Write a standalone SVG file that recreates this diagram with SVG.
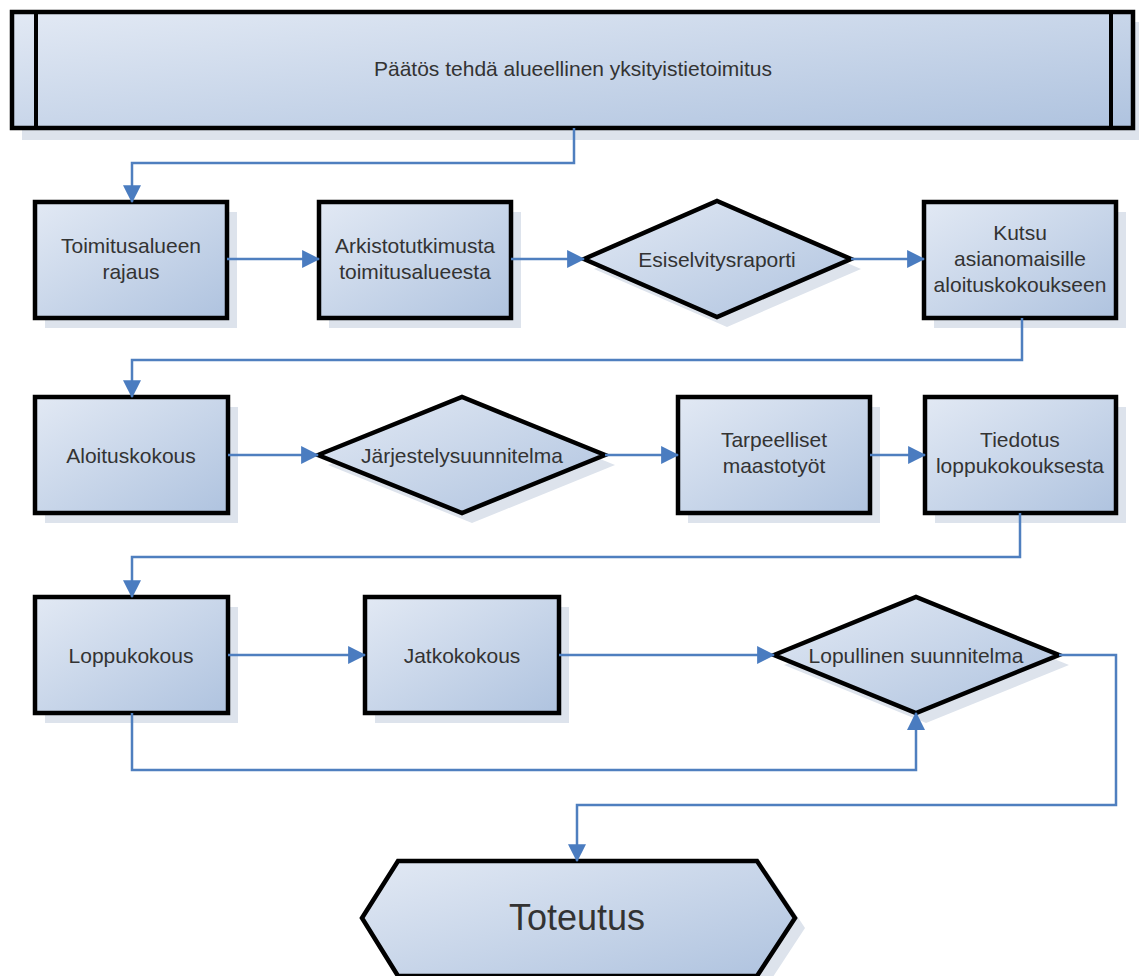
<svg xmlns="http://www.w3.org/2000/svg" width="1139" height="976" viewBox="0 0 1139 976">
<defs>
<linearGradient id="g" x1="0" y1="0" x2="1" y2="1">
<stop offset="0" stop-color="#e2e9f4"/>
<stop offset="1" stop-color="#afc3df"/>
</linearGradient>
<marker id="ah" markerUnits="userSpaceOnUse" markerWidth="18" markerHeight="18" viewBox="0 0 16 16" refX="15" refY="8" orient="auto">
<path d="M0,0 L16,8 L0,16 z" fill="#4a7cc0"/>
</marker>
<style>
.shape{fill:url(#g);stroke:#000;stroke-width:4.5;stroke-linejoin:miter}
.shadow{fill:#dde3ec}
.t{font-family:"Liberation Sans",Arial,sans-serif;font-size:21px;fill:#333;text-anchor:middle}
.c{fill:none;stroke:#4f7fbf;stroke-width:2.5}
.ca{fill:none;stroke:#4f7fbf;stroke-width:2.5;marker-end:url(#ah)}
</style>
</defs>
<rect width="1139" height="976" fill="#fff"/>

<g id="top">
<rect class="shadow" x="22" y="22" width="1121" height="118"/>
<rect class="shape" x="12" y="12" width="1121" height="116"/>
<line x1="36" y1="12" x2="36" y2="128" stroke="#000" stroke-width="4"/>
<line x1="1111" y1="12" x2="1111" y2="128" stroke="#000" stroke-width="4"/>
<text class="t" x="573" y="76">Päätös tehdä alueellinen yksityistietoimitus</text>
</g>

<g id="n1">
<rect class="shadow" x="45" y="212" width="192" height="116"/>
<rect class="shape" x="35" y="202" width="192" height="116"/>
<text class="t" x="131" y="253">Toimitusalueen</text>
<text class="t" x="131" y="279">rajaus</text>
</g>
<g id="n2">
<rect class="shadow" x="329" y="212" width="192" height="116"/>
<rect class="shape" x="319" y="202" width="192" height="116"/>
<text class="t" x="415" y="253">Arkistotutkimusta</text>
<text class="t" x="415" y="279">toimitusalueesta</text>
</g>
<g id="n3">
<polygon class="shadow" points="594,269 727,211 861,269 727,327"/>
<polygon class="shape" points="584,259 717,201 851,259 717,317"/>
<text class="t" x="717" y="267">Esiselvitysraporti</text>
</g>
<g id="n4">
<rect class="shadow" x="934" y="212" width="192" height="116"/>
<rect class="shape" x="924" y="202" width="192" height="116"/>
<text class="t" x="1020" y="240">Kutsu</text>
<text class="t" x="1020" y="266">asianomaisille</text>
<text class="t" x="1020" y="292">aloituskokoukseen</text>
</g>

<g id="n5">
<rect class="shadow" x="45" y="407" width="193" height="116"/>
<rect class="shape" x="35" y="397" width="193" height="116"/>
<text class="t" x="131" y="463">Aloituskokous</text>
</g>
<g id="n6">
<polygon class="shadow" points="328,465 472,407 615,465 472,523"/>
<polygon class="shape" points="318,455 462,397 605,455 462,513"/>
<text class="t" x="462" y="463">Järjestelysuunnitelma</text>
</g>
<g id="n7">
<rect class="shadow" x="688" y="407" width="192" height="116"/>
<rect class="shape" x="678" y="397" width="192" height="116"/>
<text class="t" x="774" y="447">Tarpeelliset</text>
<text class="t" x="774" y="473">maastotyöt</text>
</g>
<g id="n8">
<rect class="shadow" x="935" y="407" width="191" height="116"/>
<rect class="shape" x="925" y="397" width="191" height="116"/>
<text class="t" x="1020" y="447">Tiedotus</text>
<text class="t" x="1020" y="473">loppukokouksesta</text>
</g>

<g id="n9">
<rect class="shadow" x="45" y="607" width="193" height="116"/>
<rect class="shape" x="35" y="597" width="193" height="116"/>
<text class="t" x="131" y="663">Loppukokous</text>
</g>
<g id="n10">
<rect class="shadow" x="375" y="607" width="194" height="116"/>
<rect class="shape" x="365" y="597" width="194" height="116"/>
<text class="t" x="462" y="663">Jatkokokous</text>
</g>
<g id="n11">
<polygon class="shadow" points="784,665 926,607 1069,665 926,723"/>
<polygon class="shape" points="774,655 916,597 1059,655 916,713"/>
<text class="t" x="916" y="663">Lopullinen suunnitelma</text>
</g>

<g id="n12">
<polygon class="shadow" points="372,928 408,871 767,871 805,928 767,986 408,986"/>
<polygon class="shape" points="362,918 398,861 757,861 795,918 757,976 398,976"/>
<text class="t" x="577" y="930" style="font-size:36px">Toteutus</text>
</g>

<g id="connectors">
<polyline class="ca" points="574,128 574,163 132,163 132,202"/>
<line class="ca" x1="227" y1="259" x2="319" y2="259"/>
<line class="ca" x1="511" y1="259" x2="584" y2="259"/>
<line class="ca" x1="851" y1="259" x2="924" y2="259"/>
<polyline class="ca" points="1022,318 1022,360 132,360 132,397"/>
<line class="ca" x1="228" y1="455" x2="318" y2="455"/>
<line class="ca" x1="605" y1="455" x2="678" y2="455"/>
<line class="ca" x1="870" y1="455" x2="925" y2="455"/>
<polyline class="ca" points="1020,513 1020,557 132,557 132,597"/>
<line class="ca" x1="228" y1="655" x2="365" y2="655"/>
<line class="ca" x1="559" y1="655" x2="774" y2="655"/>
<polyline class="ca" points="132,713 132,770 916,770 916,713"/>
<polyline class="ca" points="1059,655 1116,655 1116,805 577,805 577,861"/>
</g>
</svg>
